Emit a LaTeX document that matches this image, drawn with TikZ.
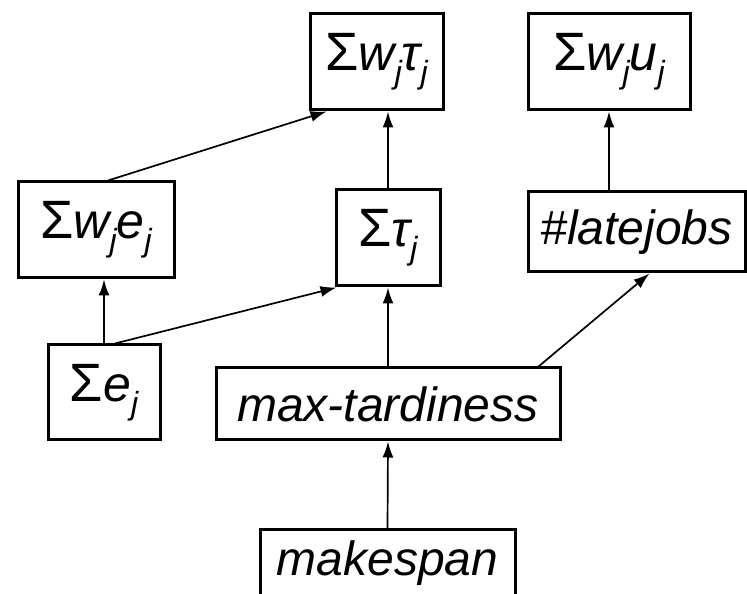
\documentclass[tikz,border=0pt]{standalone}
\usepackage{fontspec}
\setmainfont{Liberation Sans}
\usetikzlibrary{arrows.meta,calc}
\newcommand\lowj{\raisebox{-0.5ex}{\fontsize{32}{32}\selectfont\itshape j}}
\newcommand\bigsig{{\upshape\fontsize{54}{54}\selectfont Σ}}
\begin{document}
\begin{tikzpicture}[x=1pt,y=1pt,
  box/.style={draw,line width=3pt,inner sep=0pt,font=\fontsize{48}{52}\selectfont\itshape},
  mbox/.style={box,font=\fontsize{50}{54}\selectfont\itshape},
  arr/.style={line width=1.7pt,-{Latex[length=16pt,width=11pt]}}]
\useasboundingbox (0,0) rectangle (747,594);
\node[mbox,minimum width=133,minimum height=96] (wt) at (376.5,532) {\bigsig w\lowj τ\lowj};
\node[mbox,minimum width=162,minimum height=96] (wu) at (609,532) {\bigsig w\lowj u\lowj};
\node[mbox,minimum width=156,minimum height=96] (we) at (96,364) {\bigsig w\lowj e\lowj};
\node[mbox,minimum width=104,minimum height=96] (tau) at (388,356) {\bigsig τ\lowj};
\node[box,minimum width=217,minimum height=80] (late) at (636.5,362) {\#latejobs};
\node[mbox,minimum width=112,minimum height=95] (e) at (104,201.5) {\bigsig e\lowj};
\node[box,minimum width=344,minimum height=72] (mt) at (388,190) {max-tardiness};
\node[box,minimum width=255,minimum height=66] (mk) at (387.5,31) {makespan};
\draw[arr] ($(we.north)+(12,0)$) -- ($(wt.south west)+(18,0)$);
\draw[arr] (tau.north) -- (tau.north |- wt.south);
\draw[arr] (late.north -| wu.south) -- (wu.south);
\draw[arr] (e.north) -- (e.north |- we.south);
\draw[arr] ($(e.north)+(11,0)$) -- ($(tau.south west)+(2,0)$);
\draw[arr] (mt.north) -- (mt.north |- tau.south);
\draw[arr] ($(mt.north east)+(-23,0)$) -- ($(late.south)+(13,0)$);
\draw[arr] (mk.north) -- (mt.south);
\end{tikzpicture}
\end{document}
